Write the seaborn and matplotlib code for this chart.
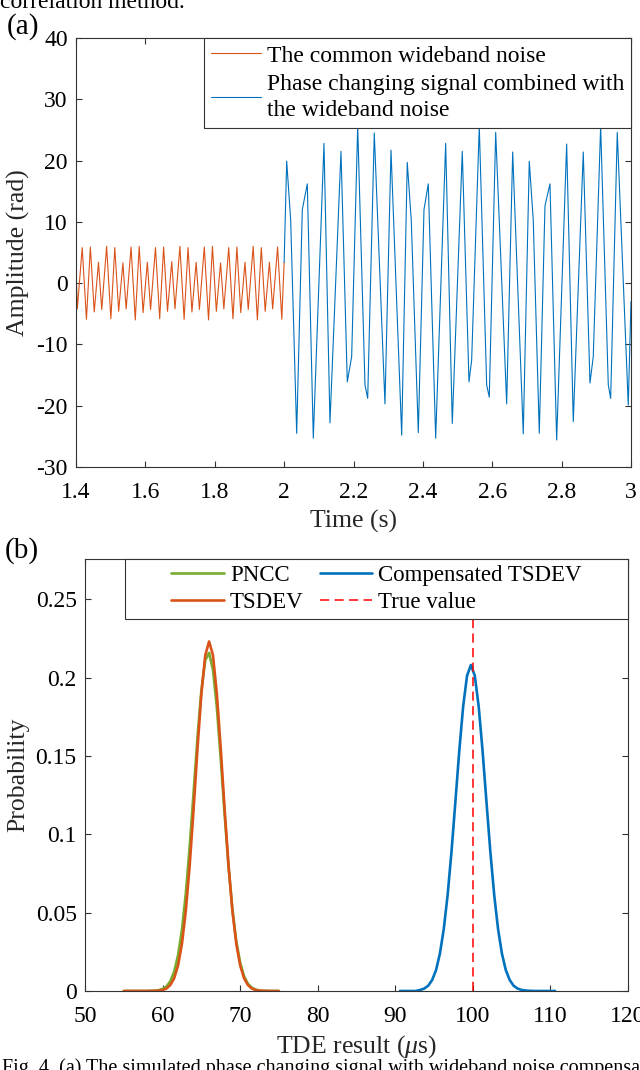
import matplotlib
matplotlib.use("Agg")
import matplotlib.pyplot as plt
import seaborn as sns
from matplotlib.patches import Rectangle
from matplotlib.lines import Line2D

# ---------------- data: panel (a) ----------------
noise_t = [1.400,
           1.4038, 1.4179, 1.4301, 1.4414, 1.4526, 1.4648,
           1.4742, 1.4883, 1.5005, 1.5118, 1.5230, 1.5352,
           1.5446, 1.5587, 1.5709, 1.5822, 1.5934, 1.6056,
           1.6150, 1.6291, 1.6413, 1.6526, 1.6638, 1.6760,
           1.6854, 1.6995, 1.7117, 1.7230, 1.7342, 1.7464,
           1.7558, 1.7699, 1.7821, 1.7934, 1.8046, 1.8168,
           1.8262, 1.8403, 1.8525, 1.8638, 1.8750, 1.8872,
           1.8966, 1.9107, 1.9229, 1.9342, 1.9454, 1.9576,
           1.9670, 1.9811, 1.9933, 2.000]
noise_v = [2.5,
           -4.2, 5.8, -5.9, 5.9, -4.7, 3.4,
           -4.3, 6.0, -5.8, 5.8, -4.6, 3.3,
           -4.2, 5.9, -6.0, 6.0, -4.8, 3.4,
           -4.3, 5.8, -5.8, 5.9, -4.6, 3.5,
           -4.2, 6.0, -5.9, 5.8, -4.7, 3.4,
           -4.3, 5.9, -6.0, 6.0, -4.6, 3.3,
           -4.2, 5.8, -5.8, 5.9, -4.8, 3.4,
           -4.3, 6.0, -6.0, 5.8, -4.6, 3.4,
           -4.2, 5.9, -5.9, 3.4]

signal_t = [2.000, 2.0074, 2.0189, 2.0362, 2.0524, 2.0668, 2.0841, 2.1149, 2.1322,
            2.1639, 2.1821, 2.1947, 2.2121, 2.2331, 2.2409, 2.2599, 2.2907, 2.3081,
            2.3389, 2.3550, 2.3665, 2.3868, 2.4032, 2.4156, 2.4369, 2.4657, 2.4848,
            2.5136, 2.5329, 2.5406, 2.5626, 2.5839, 2.5914, 2.6099, 2.6416, 2.6589,
            2.6894, 2.7067, 2.7182, 2.7356, 2.7520, 2.7664, 2.7857, 2.8145, 2.8336,
            2.8624, 2.8817, 2.8912, 2.9125, 2.9345, 2.9414, 2.9604, 2.9921, 3.000]
signal_v = [3.4, 19.9, 10.3, -24.5, 12.0, 16.2, -25.3, 22.8, -22.8,
            21.5, -16.1, -12.0, 25.6, -16.6, -18.8, 24.5, -19.7, 21.7,
            -24.8, 19.7, 10.3, -24.4, 12.0, 16.2, -25.3, 22.8, -22.9,
            21.5, -16.1, -12.6, 25.6, -16.6, -18.6, 24.6, -19.7, 21.4,
            -24.6, 19.9, 10.3, -24.5, 12.6, 16.2, -25.6, 22.7, -22.6,
            21.4, -16.3, -12.0, 25.6, -16.6, -18.8, 24.6, -19.9, -3.0]

a_xticks = [1.4, 1.6, 1.8, 2.0, 2.2, 2.4, 2.6, 2.8, 3.0]
a_xticklabels = ["1.4", "1.6", "1.8", "2", "2.2", "2.4", "2.6", "2.8", "3"]
a_yticks = [-30, -20, -10, 0, 10, 20, 30, 40]
a_yticklabels = ["-30", "-20", "-10", "0", "10", "20", "30", "40"]
a_labels = ["The common wideband noise",
            "Phase changing signal combined with\nthe wideband noise"]

# ---------------- data: panel (b) ----------------
tsdev_x = [55, 56, 57, 58, 59, 59.5, 60, 60.5, 61, 61.5, 62, 62.5, 63, 63.5, 64, 64.5,
           65, 65.5, 66, 66.5, 67, 67.5, 68, 68.5, 69, 69.5, 70, 70.5, 71, 71.5, 72,
           72.5, 73, 74, 75]
tsdev_p = [0, 0, 0, 0, 0.0001, 0.0002, 0.0006, 0.0016, 0.0038, 0.0082, 0.0164, 0.0302,
           0.0513, 0.0804, 0.1160, 0.1545, 0.1894, 0.2141, 0.2230, 0.2141, 0.1894,
           0.1545, 0.1160, 0.0804, 0.0513, 0.0302, 0.0164, 0.0082, 0.0038, 0.0016,
           0.0006, 0.0002, 0.0001, 0, 0]
pncc_x = tsdev_x
pncc_p = [0, 0, 0, 0, 0.0002, 0.0005, 0.0013, 0.0029, 0.0062, 0.0124, 0.0229, 0.0392,
          0.0624, 0.0923, 0.1267, 0.1617, 0.1917, 0.2110, 0.2157, 0.2048, 0.1807,
          0.1480, 0.1126, 0.0796, 0.0523, 0.0319, 0.0180, 0.0095, 0.0046, 0.0021,
          0.0009, 0.0003, 0.0001, 0, 0]
comp_x = [90.6, 91.6, 92.6, 93.25, 93.75, 94.25, 94.75, 95.25, 95.75, 96.25, 96.75,
          97.25, 97.75, 98.25, 98.75, 99.25, 99.75, 100.25, 100.75, 101.25, 101.75,
          102.25, 102.75, 103.25, 103.75, 104.25, 104.75, 105.25, 105.75, 106.25,
          107, 108, 109, 110.6]
comp_p = [0, 0, 0, 0.0007, 0.0016, 0.0034, 0.0070, 0.0133, 0.0238, 0.0395, 0.0614,
          0.0891, 0.1209, 0.1533, 0.1816, 0.2011, 0.2080, 0.2011, 0.1816, 0.1533,
          0.1209, 0.0891, 0.0614, 0.0395, 0.0238, 0.0133, 0.0070, 0.0034, 0.0016,
          0.0007, 0.0002, 0, 0, 0]
true_value = 100
b_xticks = [50, 60, 70, 80, 90, 100, 110, 120]
b_yticks = [0, 0.05, 0.1, 0.15, 0.2, 0.25]
b_yticklabels = ["0", "0.05", "0.1", "0.15", "0.2", "0.25"]
b_labels = ["PNCC", "TSDEV", "Compensated TSDEV", "True value"]

ORANGE = "#D95319"
BLUE = "#0072BD"
GREEN = "#77AC30"
RED = "#FF0000"
AXC = "#333333"

# ---------------- style ----------------
sns.set_theme(style="ticks")
plt.rcParams["font.family"] = ["Liberation Serif", "DejaVu Serif"]
plt.rcParams["mathtext.fontset"] = "custom"
plt.rcParams["mathtext.rm"] = "Liberation Serif"
plt.rcParams["mathtext.it"] = "Liberation Serif:italic"
plt.rcParams["axes.unicode_minus"] = False
plt.rcParams["text.color"] = "black"

W, H = 640, 1070
fig = plt.figure(figsize=(W / 100, H / 100), dpi=100)
fig.patch.set_facecolor("white")


def box(l, t, r, b):
    return [l / W, 1 - b / H, (r - l) / W, (b - t) / H]


ax1 = fig.add_axes(box(76, 38, 631, 467))
ax2 = fig.add_axes(box(85, 559, 628, 991))

for ax in (ax1, ax2):
    for s in ax.spines.values():
        s.set_color(AXC)
        s.set_linewidth(0.8)
        s.set_visible(True)
    ax.tick_params(direction="in", top=True, right=True, length=4.5, width=0.8,
                   color=AXC, labelcolor="black", labelsize=17)
    ax.tick_params(axis="x", pad=11)
    ax.tick_params(axis="y", pad=6)
    ax.set_facecolor("white")

# ---- panel (a) ----
sns.lineplot(x=noise_t, y=noise_v, ax=ax1, color=ORANGE, linewidth=0.8,
             sort=False, estimator=None, legend=False)
sns.lineplot(x=signal_t, y=signal_v, ax=ax1, color=BLUE, linewidth=0.8,
             sort=False, estimator=None, legend=False)
ax1.set_xlim(1.4, 3.0)
ax1.set_ylim(-30, 40)
ax1.set_xticks(a_xticks)
ax1.set_xticklabels(a_xticklabels)
ax1.set_yticks(a_yticks)
ax1.set_yticklabels(a_yticklabels)
ax1.set_xlabel("Time (s)", fontsize=18.5)
ax1.set_ylabel("Amplitude (rad)", fontsize=18.5)
ax1.xaxis.label.set_va("center")
ax1.yaxis.label.set_va("center")
ax1.xaxis.set_label_coords(0.5, -(521 - 467) / 429)
ax1.yaxis.set_label_coords((18 - 76) / 555, 0.5)

ha = [Line2D([], [], color=ORANGE, lw=0.8), Line2D([], [], color=BLUE, lw=0.8)]
leg1 = ax1.legend(ha, a_labels, loc="upper right", bbox_to_anchor=(1, 1),
                  borderaxespad=0, frameon=True, fancybox=False, framealpha=1,
                  edgecolor=AXC, fontsize=17, handlelength=2.1, handletextpad=0.25,
                  borderpad=0.3, labelspacing=0.3)
for t in leg1.get_texts():
    t.set_linespacing(1.35)
leg1.get_frame().set_linewidth(0.8)

# ---- panel (b) ----
sns.lineplot(x=pncc_x, y=pncc_p, ax=ax2, color=GREEN, linewidth=1.9,
             sort=False, estimator=None, legend=False)
sns.lineplot(x=tsdev_x, y=tsdev_p, ax=ax2, color=ORANGE, linewidth=1.9,
             sort=False, estimator=None, legend=False)
sns.lineplot(x=comp_x, y=comp_p, ax=ax2, color=BLUE, linewidth=1.9,
             sort=False, estimator=None, legend=False)
ax2.axvline(true_value, color=RED, linewidth=1.1, linestyle=(0, (6, 3.5)), zorder=2)
ax2.set_xlim(50, 120)
ax2.set_ylim(0, 0.2756)
ax2.set_xticks(b_xticks)
ax2.set_xticklabels([str(v) for v in b_xticks])
ax2.set_yticks(b_yticks)
ax2.set_yticklabels(b_yticklabels)
ax2.set_xlabel(r"TDE result ($\mu$s)", fontsize=18.5)
ax2.set_ylabel("Probability", fontsize=18.5)
ax2.xaxis.label.set_va("center")
ax2.yaxis.label.set_va("center")
ax2.xaxis.set_label_coords(0.5, -(1047 - 991) / 432)
ax2.yaxis.set_label_coords((18 - 85) / 543, 0.5)

lx0 = (125 - 85) / 543
ly0 = (991 - 619) / 432
ax2.add_patch(Rectangle((lx0, ly0), 1 - lx0, 1 - ly0, transform=ax2.transAxes,
                        facecolor="white", edgecolor=AXC, linewidth=0.8,
                        zorder=4, clip_on=False))
hb = [Line2D([], [], color=GREEN, lw=1.9), Line2D([], [], color=ORANGE, lw=1.9),
      Line2D([], [], color=BLUE, lw=1.9),
      Line2D([], [], color=RED, lw=1.1, linestyle=(0, (6, 3.5)))]
leg2 = ax2.legend(hb, b_labels, loc="center", bbox_to_anchor=(lx0, ly0, 1 - lx0, 1 - ly0),
                  ncol=2, frameon=False, fontsize=16.5, handlelength=2.3,
                  handletextpad=0.25, columnspacing=0.7, labelspacing=0.3,
                  borderaxespad=0, borderpad=0)
leg2.set_zorder(5)

# ---- panel letters and surrounding page text ----
fig.text(7 / W, 1 - 27 / H, "(a)", fontsize=21, va="center", ha="left")
fig.text(5 / W, 1 - 551 / H, "(b)", fontsize=21, va="center", ha="left")
fig.text(0, 1 - 8 / H, "correlation method.", fontsize=17, va="baseline", ha="left")
fig.text(2 / W, 1 - 1058 / H,
         "Fig. 4. (a) The simulated phase changing signal with wideband noise compensation",
         fontsize=14.5, va="top", ha="left")

fig.savefig("out.png", dpi=100, facecolor="white")
